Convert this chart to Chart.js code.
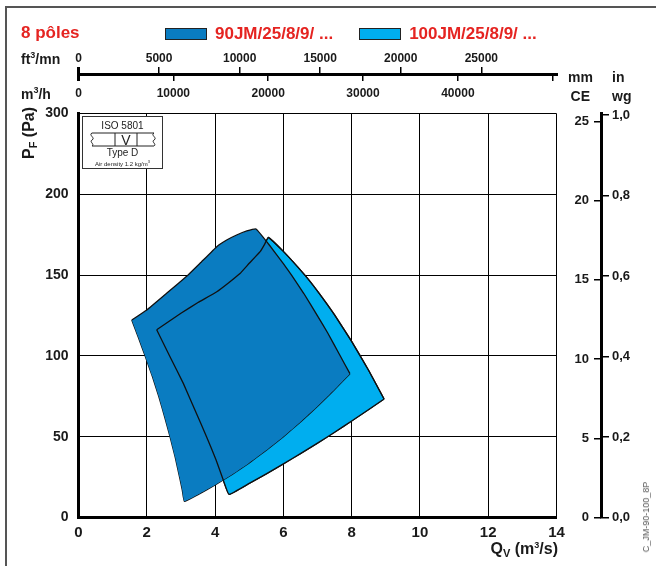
<!DOCTYPE html>
<html>
<head>
<meta charset="utf-8">
<script src="https://cdn.jsdelivr.net/npm/chart.js@4.4.1/dist/chart.umd.min.js"></script>
<style>
  html, body { margin: 0; padding: 0; background: #fff; }
  #wrap { position: relative; width: 656px; height: 566px; overflow: hidden; font-family: 'Liberation Sans', Arial, sans-serif; }
  #frame { position: absolute; left: 5px; top: 6px; width: 700px; height: 600px; border-left: 2px solid #555; border-top: 2px solid #555; }
  canvas { position: absolute; left: 0; top: 0; }
  .txt { position: absolute; font-weight: bold; white-space: nowrap; line-height: 1; color: #1a1a1a; }
  .narrow { font-size: 14px; }
  .red { color: #e52421; font-size: 17px; }
  #legend { position: absolute; left: 165px; top: 24px; display: flex; align-items: center; }
  #legend .item { display: flex; align-items: center; margin-right: 26px; }
  #legend .box { width: 40px; height: 10px; border: 1px solid #222; margin-right: 8px; }
  #legend .name { color: #e52421; font-weight: bold; font-size: 17px; white-space: nowrap; }
  #iso { position: absolute; left: 82px; top: 116px; width: 79px; height: 51px; border: 1px solid #333; background: #fff; text-align: center; color: #222; }
  #iso .t { font-size: 10px; line-height: 11px; }
  #iso .s { font-size: 6px; line-height: 7px; }
  #iso svg { display: block; margin: 1px auto 0 auto; }
  #code { position: absolute; left: 646px; top: 517px; font-size: 9px; color: #555; white-space: nowrap; transform: translate(-50%, -50%) rotate(-90deg); }
  #ptitle { position: absolute; left: 29px; top: 133px; font-size: 16px; font-weight: bold; color: #1a1a1a; white-space: nowrap; transform: translate(-50%, -50%) rotate(-90deg); }
  #qtitle { position: absolute; right: 98px; top: 540px; font-size: 16px; font-weight: bold; color: #1a1a1a; white-space: nowrap; }
  sub { font-size: 11px; vertical-align: -3px; }
  sup { font-size: 9px; vertical-align: 6px; }
</style>
</head>
<body>
<div id="wrap">
  <div id="frame"></div>
  <canvas id="chart" width="656" height="566"></canvas>
  <div class="txt red" style="left:21px; top:24px;">8 pôles</div>
  <div id="legend"></div>
  <div class="txt narrow" style="left:21px; top:51px;">ft<sup>3</sup>/mn</div>
  <div class="txt narrow" style="left:21px; top:86px;">m<sup>3</sup>/h</div>
  <div class="txt narrow" style="left:568px; top:70px; width:22px; text-align:right;">mm</div>
  <div class="txt narrow" style="left:568px; top:89px; width:22px; text-align:right;">CE</div>
  <div class="txt narrow" style="left:612px; top:70px;">in</div>
  <div class="txt narrow" style="left:612px; top:89px;">wg</div>
  <div id="ptitle">P<sub>F</sub> (Pa)</div>
  <div id="qtitle">Q<sub>V</sub> (m<sup>3</sup>/s)</div>
  <div id="iso">
    <div class="t" style="margin-top:3px;">ISO 5801</div>
    <svg width="70" height="15" viewBox="0 0 70 15">
      <path d="M4 1 H66 M4 14 H66 M27 1 V14 M49 1 V14" stroke="#222" stroke-width="1" fill="none"/>
      <path d="M4 1 C0 3, 8 6, 4 8 C1 10, 7 12, 4 14" stroke="#222" stroke-width="1" fill="none"/>
      <path d="M66 1 C62 3, 70 6, 66 8 C63 10, 69 12, 66 14" stroke="#222" stroke-width="1" fill="none"/>
      <text x="38" y="12.5" font-size="14" text-anchor="middle" fill="#222" font-family="Liberation Sans, Arial, sans-serif">V</text>
    </svg>
    <div class="t">Type D</div>
    <div class="s">Air density 1.2 kg/m<sup style="font-size:4px;vertical-align:3px;">3</sup></div>
  </div>
  <div id="code">C_JM-90-100_8P</div>
</div>
<script>
// axis ticks and labels
const pressureTicks = [0, 50, 100, 150, 200, 250];
const pressureLabels = ['0', '50', '100', '150', '200', '300'];
const ftTicks = [0, 5000, 10000, 15000, 20000, 25000];
const m3hTicks = [0, 10000, 20000, 30000, 40000, 50000];
const m3hLabels = ['0', '10000', '20000', '30000', '40000', ''];
const mmTicks = [0, 5, 10, 15, 20, 25];
const wgTicks = [0, 0.2, 0.4, 0.6, 0.8, 1.0];
const wgLabels = ['0,0', '0,2', '0,4', '0,6', '0,8', '1,0'];

// unit conversions for the secondary scales
const FT3MIN_PER_M3S = 2118.88;
const M3H_PER_M3S = 3600;
const PA_PER_MM = 9.80665;
const PA_PER_INWG = 249.089;
const Q_MAX = 14;
const P_MAX = 250;

const seriesNames = ['90JM/25/8/9/ ...', '100JM/25/8/9/ ...'];
const seriesColors = ['#0a7cc1', '#00aeef'];

// working envelopes [Qv m3/s, Pf Pa], each split into upper and lower boundary
const jm90Upper = [[1.56, 122.2], [2.0, 128.4], [2.58, 138.7], [3.21, 150.1], [3.56, 157.3], [4.05, 167.6],
  [4.34, 171.7], [4.63, 174.8], [4.93, 177.3], [5.2, 178.5], [5.6, 168.3], [6.0, 157.1], [6.24, 150],
  [6.6, 138.6], [7.0, 124.8], [7.3, 114.2], [7.64, 101], [7.95, 89]];
const jm90Lower = [[1.56, 122.2], [1.76, 111], [1.95, 100], [2.16, 87.5], [2.35, 75], [2.52, 62.5],
  [2.68, 50], [2.83, 37.5], [2.96, 25], [3.04, 17], [3.1, 10], [3.5, 14.2], [4.0, 20.1], [4.5, 26.6],
  [5.0, 33.8], [5.5, 41.6], [6.0, 50], [6.5, 59.1], [7.0, 68.8], [7.5, 79.2], [7.95, 89]];
const jm100Upper = [[2.29, 116.2], [3.0, 126.4], [3.5, 133], [4.05, 139.7], [4.4, 145.3], [4.73, 151],
  [5.0, 157.3], [5.32, 164.5], [5.45, 169], [5.56, 173.4], [6.0, 164.7], [6.63, 150], [7.0, 140.1],
  [7.5, 125.4], [8.0, 109], [8.5, 91], [8.95, 73.3]];
const jm100Lower = [[2.29, 116.2], [2.68, 99.5], [3.07, 83], [3.41, 66.5], [3.75, 50], [4.03, 35.6],
  [4.24, 23.2], [4.41, 14.3], [5.0, 21.1], [5.5, 27], [6.0, 33.2], [6.5, 39.5], [7.0, 46],
  [7.5, 52.8], [8.0, 59.7], [8.5, 66.8], [8.95, 73.3]];

const toPts = arr => arr.map(([x, y]) => ({ x, y }));
const EDGE = '#111';
const SANS = "'Liberation Sans', Arial, sans-serif";

const setTicks = list => scale => { scale.ticks = list.map(v => ({ value: v })); };

const datasets = [
    // outline of the 100JM envelope, drawn above the 90JM fill
    { data: toPts(jm100Upper), fill: false },
    { data: toPts(jm100Lower), fill: false },
    { label: seriesNames[0], data: toPts(jm90Upper), fill: '+1', backgroundColor: seriesColors[0] },
    { data: toPts(jm90Lower), fill: false },
    { label: seriesNames[1], data: toPts(jm100Upper), fill: '+1', backgroundColor: seriesColors[1] },
    { data: toPts(jm100Lower), fill: false },
].map(d => Object.assign({ borderColor: EDGE, borderWidth: 1.3, pointRadius: 0, tension: 0.1 }, d));

const chart = new Chart(document.getElementById('chart'), {
    type: 'line',
    data: { datasets },
    options: {
        responsive: false,
        animation: false,
        layout: { padding: 0 },
        plugins: {
            legend: { display: false },
            tooltip: { enabled: false },
        },
        scales: {
            x: {
                type: 'linear',
                position: 'bottom',
                min: 0, max: Q_MAX,
                ticks: { stepSize: 2, color: '#1a1a1a', padding: 6, font: { family: SANS, size: 15, weight: 'bold' } },
                grid: { color: '#000', lineWidth: 1, drawTicks: false },
                border: { color: '#000', width: 3 },
                afterFit: s => { s.height = 48.5; },
            },
            y: {
                type: 'linear',
                position: 'left',
                min: 0, max: P_MAX,
                afterBuildTicks: setTicks(pressureTicks),
                ticks: {
                    color: '#1a1a1a', padding: 10,
                    font: { family: SANS, size: 14, weight: 'bold' },
                    callback: (v, i) => pressureLabels[i],
                },
                grid: { color: '#000', lineWidth: 1, drawTicks: false },
                border: { color: '#000', width: 3 },
                afterFit: s => { s.width = 78.5; },
            },
            ft: {
                type: 'linear',
                position: 'top',
                weight: 2,
                min: 0, max: Q_MAX * FT3MIN_PER_M3S,
                afterBuildTicks: setTicks(ftTicks),
                ticks: {
                    color: '#1a1a1a', padding: 1,
                    font: { family: SANS, size: 12, weight: 'bold' },
                    callback: v => String(v),
                },
                grid: { drawOnChartArea: false, tickLength: 7, color: '#000', lineWidth: c => (c.index === 0 ? 3 : 1.5) },
                border: { color: '#000', width: 3 },
                afterFit: s => { s.height = 74; },
            },
            m3h: {
                type: 'linear',
                position: 'top',
                weight: 1,
                min: 0, max: Q_MAX * M3H_PER_M3S,
                afterBuildTicks: setTicks(m3hTicks),
                ticks: {
                    color: '#1a1a1a', padding: -27,
                    font: { family: SANS, size: 12, weight: 'bold' },
                    callback: (v, i) => m3hLabels[i],
                },
                grid: {
                    drawOnChartArea: false, tickLength: 39.5, color: '#000',
                    lineWidth: c => (c.index === 0 ? 3 : 1.5),
                    tickBorderDash: [7, 80],
                },
                border: { display: false },
                afterFit: s => { s.height = 39.5; },
            },
            mm: {
                type: 'linear',
                position: 'right',
                weight: 1,
                min: 0, max: P_MAX / PA_PER_MM,
                afterBuildTicks: setTicks(mmTicks),
                ticks: {
                    color: '#1a1a1a', mirror: true, padding: 32.5,
                    font: { family: SANS, size: 13, weight: 'bold' },
                    callback: v => String(v),
                },
                grid: {
                    drawOnChartArea: false, tickLength: 44.5, color: '#000', lineWidth: 1.5,
                    tickBorderDash: [0, 37, 7.5, 200],
                },
                border: { display: false },
                afterFit: s => { s.width = 44.5; },
            },
            wg: {
                type: 'linear',
                position: 'right',
                weight: 2,
                min: 0, max: P_MAX / PA_PER_INWG,
                afterBuildTicks: setTicks(wgTicks),
                ticks: {
                    color: '#1a1a1a', padding: 3,
                    font: { family: SANS, size: 13, weight: 'bold' },
                    callback: (v, i) => wgLabels[i],
                },
                grid: { drawOnChartArea: false, tickLength: 8, color: '#000', lineWidth: 1.5 },
                border: { color: '#000', width: 3 },
                afterFit: s => { s.width = 55; },
            },
        },
    },
});

// html legend built from the labelled datasets
const legendEl = document.getElementById('legend');
chart.data.datasets.filter(d => d.label).forEach(d => {
    const item = document.createElement('span');
    item.className = 'item';
    const box = document.createElement('span');
    box.className = 'box';
    box.style.background = d.backgroundColor;
    const name = document.createElement('span');
    name.className = 'name';
    name.textContent = d.label;
    item.appendChild(box);
    item.appendChild(name);
    legendEl.appendChild(item);
});
</script>
</body>
</html>
